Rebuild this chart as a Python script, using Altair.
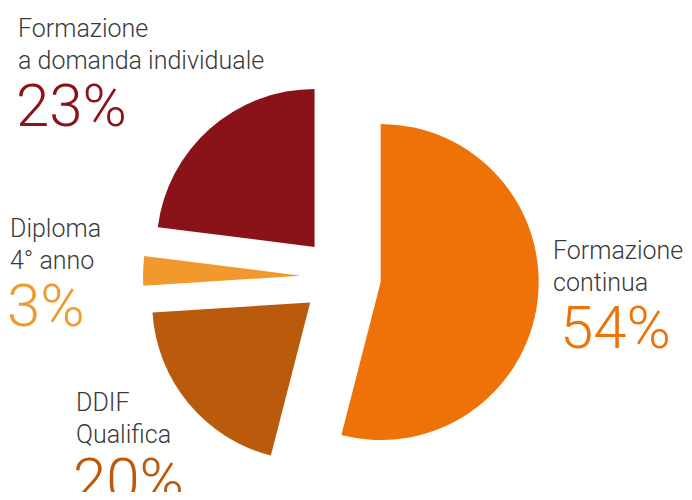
import altair as alt
import pandas as pd

# ---- data ----
categories = ["Formazione continua", "DDIF Qualifica", "Diploma 4° anno",
              "Formazione a domanda individuale"]
label_lines = ["Formazione\ncontinua", "DDIF\nQualifica", "Diploma\n4° anno",
               "Formazione\na domanda individuale"]
values = [54, 20, 3, 23]
colors = ["#EE7208", "#B95A0C", "#F2992E", "#8A1219"]

df = pd.DataFrame({
    "order": list(range(len(categories))),
    "category": categories,
    "label": label_lines,
    "value": values,
})
df["pct"] = df["value"].astype(str) + "%"

# ---- layout (style) ----
W, H = 676, 484
CX, CY = 333, 269       # pie centre in chart pixels
EXPLODE = 40            # distance each slice is pulled out
RADIUS = 158
FONT = "Helvetica Neue, Roboto, Liberation Sans, sans-serif"
label_pos = {           # left x of name, left x of percent, baseline of first line
    "Formazione continua": (545, 552, 251),
    "DDIF Qualifica": (68, 65, 403),
    "Diploma 4° anno": (2, -1, 229),
    "Formazione a domanda individuale": (10, 8, 29),
}

color_scale = alt.Scale(domain=categories, range=colors)

base = alt.Chart(df)

pie = base.transform_window(
    end="sum(value)", sort=[alt.SortField("order")]
).transform_calculate(
    start="datum.end - datum.value",
    mid="(datum.end - datum.value / 2) / 100 * 2 * PI",
).transform_calculate(
    cx=f"{CX} + {EXPLODE} * sin(datum.mid)",
    cy=f"{CY} - {EXPLODE} * cos(datum.mid)",
).mark_arc(outerRadius=RADIUS).encode(
    theta=alt.Theta("start:Q", scale=alt.Scale(domain=[0, 100])),
    theta2="end:Q",
    x=alt.X("cx:Q", scale=None, axis=None),
    y=alt.Y("cy:Q", scale=None, axis=None),
    color=alt.Color("category:N", scale=color_scale, legend=None),
)

layers = [pie]
for cat in categories:
    nx, px, ly = label_pos[cat]
    name = base.transform_filter(alt.datum.category == cat).mark_text(
        align="left", baseline="alphabetic", font=FONT, fontWeight=300,
        fontSize=25, lineHeight=32, lineBreak="\n", color="#3a3a3a",
    ).encode(x=alt.value(nx), y=alt.value(ly), text="label:N")
    pct = base.transform_filter(alt.datum.category == cat).mark_text(
        align="left", baseline="alphabetic", font=FONT, fontWeight=300,
        fontSize=60,
    ).encode(
        x=alt.value(px), y=alt.value(ly + 89), text="pct:N",
        color=alt.Color("category:N", scale=color_scale, legend=None),
    )
    layers += [name, pct]

chart = alt.layer(*layers).properties(
    width=W, height=H, autosize="none", padding=0,
).configure_view(stroke=None)

chart.save("out.html", embed_options={"renderer": "svg", "actions": False})
